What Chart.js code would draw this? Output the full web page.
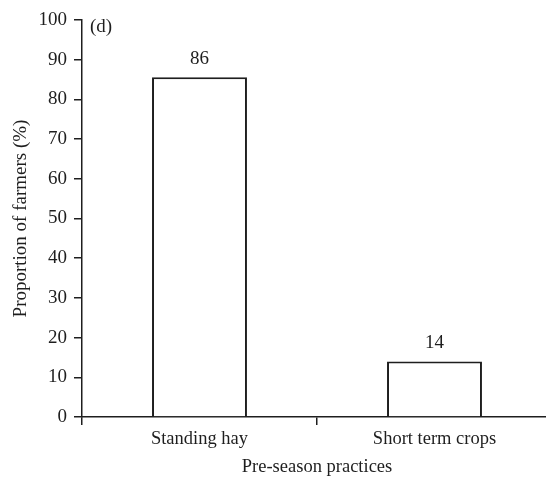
<!DOCTYPE html>
<html lang="en">
<head>
    <meta charset="UTF-8">
    <title>Pre-season practices</title>
    <script src="https://cdn.jsdelivr.net/npm/chart.js"></script>
    <style>
        html, body {
            margin: 0;
            padding: 0;
            background: #fff;
            overflow: hidden;
        }
        .chart-box {
            width: 556px;
            height: 478px;
        }
    </style>
</head>
<body>
    <div class="chart-box">
        <canvas id="practiceChart"></canvas>
    </div>

    <script>
        // data
        const practices = ['Standing hay', 'Short term crops'];
        const farmerShare = [85.6, 14];
        const yTicks = [0, 10, 20, 30, 40, 50, 60, 70, 80, 90, 100];
        const panelLabel = '(d)';

        const serif = "'Liberation Serif', 'DejaVu Serif', serif";
        const ink = '#1e1e1e';

        // value labels above the bars and the panel letter
        const barLabels = {
            id: 'barLabels',
            afterDatasetsDraw(chart) {
                const ctx = chart.ctx;
                ctx.save();
                ctx.fillStyle = ink;
                ctx.font = '19px ' + serif;
                ctx.textAlign = 'center';
                ctx.textBaseline = 'middle';
                chart.getDatasetMeta(0).data.forEach((bar, i) => {
                    ctx.fillText(Math.round(farmerShare[i]), bar.x, bar.y - 18);
                });
                ctx.textAlign = 'left';
                ctx.fillText(panelLabel, chart.chartArea.left + 8, chart.chartArea.top + 7);
                ctx.restore();
            }
        };

        const ctx = document.getElementById('practiceChart').getContext('2d');

        new Chart(ctx, {
            type: 'bar',
            data: {
                labels: practices,
                datasets: [{
                    data: farmerShare,
                    backgroundColor: '#ffffff',
                    borderColor: ink,
                    borderWidth: 2,
                    categoryPercentage: 1,
                    barPercentage: 0.404
                }]
            },
            options: {
                responsive: true,
                maintainAspectRatio: false,
                animation: false,
                layout: {
                    padding: { top: 20, right: 4, left: 0, bottom: 0 }
                },
                plugins: {
                    legend: { display: false },
                    tooltip: { enabled: false }
                },
                scales: {
                    x: {
                        grid: {
                            drawOnChartArea: false,
                            drawTicks: true,
                            tickLength: 8,
                            color: ink,
                            lineWidth: 1.5
                        },
                        border: { color: ink, width: 1.5 },
                        ticks: {
                            color: ink,
                            padding: 3,
                            font: { family: serif, size: 18.5 }
                        },
                        title: {
                            display: true,
                            text: 'Pre-season practices',
                            color: ink,
                            padding: { top: 0, bottom: 0 },
                            font: { family: serif, size: 18.5 }
                        },
                        afterFit(scale) {
                            scale.height = 61;
                        }
                    },
                    y: {
                        min: 0,
                        max: 100,
                        afterBuildTicks(scale) {
                            scale.ticks = yTicks.map(v => ({ value: v }));
                        },
                        grid: {
                            drawOnChartArea: false,
                            drawTicks: true,
                            tickLength: 8,
                            color: ink,
                            lineWidth: 1.5
                        },
                        border: { color: ink, width: 1.5 },
                        ticks: {
                            color: ink,
                            padding: 7,
                            font: { family: serif, size: 19 }
                        },
                        title: {
                            display: true,
                            text: 'Proportion of farmers (%)',
                            color: ink,
                            padding: { top: 10, bottom: 0 },
                            font: { family: serif, size: 19 }
                        },
                        afterFit(scale) {
                            scale.width = 82;
                        }
                    }
                }
            },
            plugins: [barLabels]
        });
    </script>
</body>
</html>
